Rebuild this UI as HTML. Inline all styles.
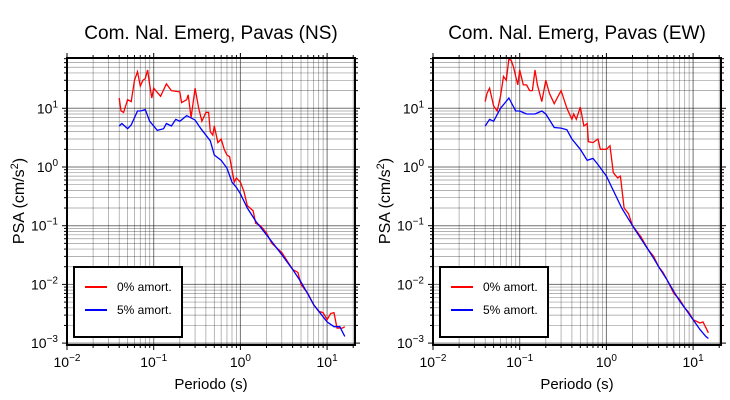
<!DOCTYPE html><html><head><style>body{margin:0;background:#fff}svg{display:block}text{font-family:"Liberation Sans",sans-serif;fill:#000}</style></head><body>
<svg id="s" width="730" height="400" xmlns="http://www.w3.org/2000/svg"></svg>
<script>
const S=document.getElementById('s');let h='';
const D={
nsR:[[0.04,15],[0.042,9],[0.045,8.5],[0.05,14],[0.055,13],[0.06,30],[0.065,42],[0.07,24],[0.075,30],[0.08,32],[0.085,45],[0.09,25],[0.095,15],[0.1,22],[0.12,16],[0.14,26],[0.16,20],[0.2,19],[0.21,12.5],[0.24,14],[0.25,17],[0.27,7],[0.3,22],[0.33,10],[0.36,6],[0.4,8.5],[0.43,8.5],[0.45,4],[0.48,3.5],[0.5,5],[0.55,2.6],[0.6,3],[0.65,2],[0.7,1.6],[0.75,1.5],[0.8,0.9],[0.85,0.55],[0.9,0.65],[1.0,0.55],[1.1,0.38],[1.2,0.22],[1.4,0.18],[1.5,0.11],[1.7,0.1],[2,0.075],[2.3,0.05],[3,0.035],[4,0.018],[4.6,0.016],[5,0.01],[6,0.007],[7,0.0045],[8,0.0035],[9,0.0033],[10,0.0025],[11,0.0032],[12,0.0033],[13,0.0018],[15,0.0018],[16,0.0019]],
nsB:[[0.04,5],[0.043,5.5],[0.05,4.5],[0.055,5.2],[0.065,9],[0.07,9],[0.08,9.5],[0.09,6],[0.1,5],[0.11,4.2],[0.13,4.5],[0.14,5.5],[0.16,5],[0.18,6.5],[0.2,6],[0.24,7.5],[0.3,6.3],[0.35,4.5],[0.45,2.8],[0.5,1.6],[0.6,1.3],[0.7,0.95],[0.8,0.55],[0.9,0.45],[1,0.35],[1.2,0.2],[1.5,0.12],[2,0.07],[3,0.032],[4,0.018],[5,0.011],[6,0.0068],[7,0.0045],[8,0.0035],[10,0.0023],[12,0.0019],[14,0.0019],[16,0.0013]],
ewR:[[0.04,13],[0.042,18],[0.045,22],[0.05,11],[0.055,9],[0.06,16],[0.065,35],[0.07,30],[0.075,70],[0.08,65],[0.085,50],[0.09,35],[0.095,25],[0.1,45],[0.11,25],[0.12,25],[0.13,20],[0.14,20],[0.15,45],[0.16,25],[0.18,13],[0.2,30],[0.22,18],[0.25,12],[0.3,20],[0.35,10],[0.4,6.5],[0.42,8],[0.45,6.5],[0.5,10.5],[0.55,5],[0.6,5.5],[0.62,2.7],[0.7,2.6],[0.8,3],[0.85,2],[1,2],[1.1,2.3],[1.2,0.8],[1.35,0.65],[1.45,0.7],[1.6,0.2],[1.8,0.16],[2,0.1],[2.5,0.065],[3,0.04],[3.5,0.03],[4,0.02],[4.5,0.016],[5,0.012],[6,0.007],[7,0.0055],[8,0.004],[9,0.0033],[10,0.0025],[12,0.0022],[13,0.0023],[15,0.0015]],
ewB:[[0.04,5],[0.045,6.5],[0.05,6],[0.06,10],[0.075,15],[0.09,9],[0.1,9],[0.12,8],[0.15,8],[0.18,9],[0.2,8],[0.25,4.7],[0.3,4.6],[0.35,4.3],[0.4,3],[0.5,2],[0.6,1.3],[0.7,1.4],[0.8,1.1],[1,0.7],[1.5,0.2],[2,0.1],[2.5,0.06],[3,0.04],[3.5,0.028],[4,0.02],[5,0.012],[6,0.0075],[7,0.0052],[8,0.004],[10,0.0025],[12,0.0017],[14,0.0013],[15,0.0012]]};
function plot(ox,title,R,B){
 const X=v=>ox+67+(Math.log10(v)+2)*86.7, Y=v=>167-Math.log10(v)*58.7;
 const L=ox+67,Rr=ox+355,T=58,Bt=345;
 h+=`<text x="${ox+211}" y="39" font-size="19" text-anchor="middle">${title}</text>`;
 for(let d=-2;d<=1;d++)for(let m=1;m<10;m++){const v=m*10**d,x=X(v);if(x>Rr)break;if(x<L)continue;
  h+=`<line x1="${x}" y1="${T}" x2="${x}" y2="${Bt}" stroke="#000" stroke-opacity="${m==1?0.55:0.4}" stroke-width="${m==1?1:0.7}"/>`;
  h+=`<line x1="${x}" y1="${T}" x2="${x}" y2="${T-(m==1?5:3)}" stroke="#000"/><line x1="${x}" y1="${Bt}" x2="${x}" y2="${Bt+(m==1?5:3)}" stroke="#000"/>`;}
 for(let d=-4;d<=1;d++)for(let m=1;m<10;m++){const v=m*10**d,y=Y(v);if(y<T||y>Bt)continue;
  h+=`<line x1="${L}" y1="${y}" x2="${Rr}" y2="${y}" stroke="#000" stroke-opacity="${m==1?0.55:0.4}" stroke-width="${m==1?1:0.7}"/>`;
  h+=`<line x1="${L}" y1="${y}" x2="${L-(m==1?5:3)}" y2="${y}" stroke="#000"/><line x1="${Rr}" y1="${y}" x2="${Rr+(m==1?5:3)}" y2="${y}" stroke="#000"/>`;}
 for(let d=-2;d<=1;d++)h+=`<text x="${X(10**d)}" y="367" font-size="14" text-anchor="middle">10<tspan dy="-6" font-size="10">${d<0?'−'+(-d):d}</tspan></text>`;
 for(let d=-3;d<=1;d++)h+=`<text x="${L-9}" y="${Y(10**d)+5}" font-size="14" text-anchor="end">10<tspan dy="-6" font-size="10">${d<0?'−'+(-d):d}</tspan></text>`;
 h+=`<text x="${ox+211}" y="389" font-size="15" text-anchor="middle">Periodo (s)</text>`;
 h+=`<text transform="translate(${ox+24},${201}) rotate(-90)" font-size="16" text-anchor="middle">PSA (cm/s<tspan dy="-6" font-size="11">2</tspan><tspan dy="6">)</tspan></text>`;
 const pl=(a,c)=>h+=`<polyline fill="none" stroke="${c}" stroke-width="1.3" points="${a.map(p=>X(p[0]).toFixed(1)+','+Y(p[1]).toFixed(1)).join(' ')}"/>`;
 pl(R,'#f00');pl(B,'#00f');
 h+=`<rect x="${L}" y="${T}" width="${Rr-L}" height="${Bt-T}" fill="none" stroke="#000" stroke-width="2"/>`;
 h+=`<rect x="${ox+74}" y="267" width="108" height="70" fill="#fff" stroke="#000" stroke-width="2"/>`;
 h+=`<line x1="${ox+85}" y1="287" x2="${ox+107}" y2="287" stroke="#f00" stroke-width="2"/><text x="${ox+117}" y="291" font-size="12">0% amort.</text>`;
 h+=`<line x1="${ox+85}" y1="310" x2="${ox+107}" y2="310" stroke="#00f" stroke-width="2"/><text x="${ox+117}" y="314" font-size="12">5% amort.</text>`;
}
plot(0,'Com. Nal. Emerg, Pavas (NS)',D.nsR,D.nsB);
plot(366,'Com. Nal. Emerg, Pavas (EW)',D.ewR,D.ewB);
S.innerHTML=h;
</script></body></html>
